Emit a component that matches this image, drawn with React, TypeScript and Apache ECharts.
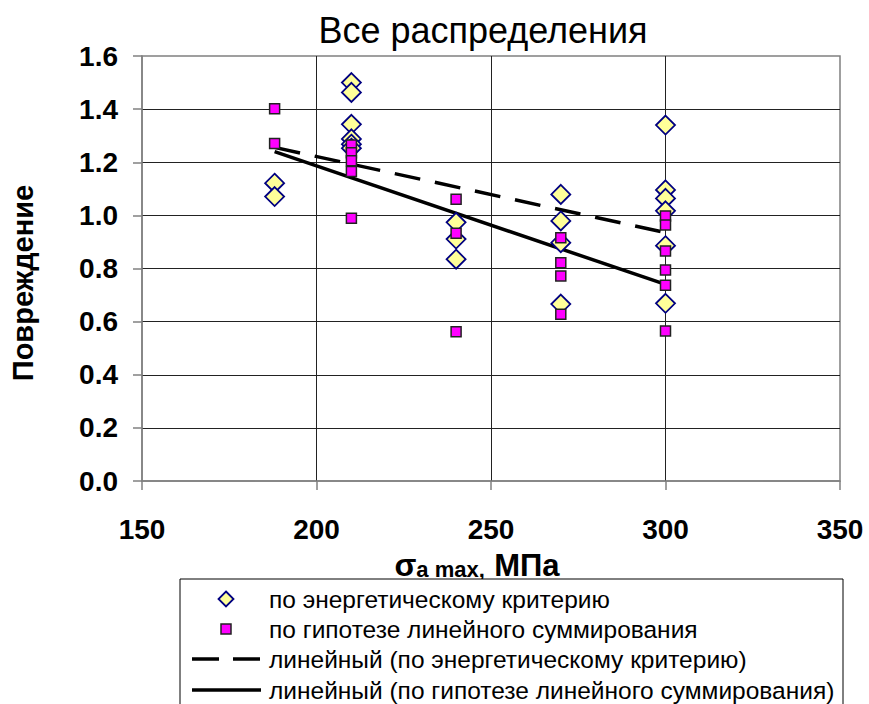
import React, { useEffect, useRef } from "react";
import * as echarts from "echarts";

const xTicks = [150, 200, 250, 300, 350];
const yTicks = [0, 0.2, 0.4, 0.6, 0.8, 1.0, 1.2, 1.4, 1.6];

const energyX = [188, 188, 210, 210, 210, 210, 210, 210, 240, 240, 240, 270, 270, 270, 270, 300, 300, 300, 300, 300, 300];
const energyY = [1.121, 1.071, 1.5, 1.463, 1.343, 1.288, 1.268, 1.253, 0.974, 0.911, 0.835, 1.079, 0.979, 0.897, 0.666, 1.34, 1.096, 1.064, 1.017, 0.886, 0.669];

const linearX = [188, 188, 210, 210, 210, 210, 210, 240, 240, 240, 270, 270, 270, 270, 300, 300, 300, 300, 300, 300];
const linearY = [1.401, 1.271, 1.265, 1.236, 1.206, 1.165, 0.989, 1.061, 0.933, 0.562, 0.916, 0.822, 0.772, 0.628, 0.998, 0.964, 0.866, 0.794, 0.737, 0.565];

const trendX = [188, 300];
const trendEnergyY = [1.256, 0.935];
const trendLinearY = [1.24, 0.74];

const names = [
  "по энергетическому критерию",
  "по гипотезе линейного суммирования",
  "линейный (по энергетическому критерию)",
  "линейный (по гипотезе линейного суммирования)",
];

const FONT = "'Liberation Sans', Arial, sans-serif";
const DASH = [26, 15];

function legendGraphics() {
  const left = 180;
  const top = 579;
  const rows = [599, 629, 659, 690];
  const cx = 226;
  const textX = 269;
  const els: any[] = [
    {
      type: "rect",
      shape: { x: left, y: top, width: 663, height: 140 },
      style: { fill: "#fff", stroke: "#000", lineWidth: 1 },
      z: 10,
    },
    {
      type: "polygon",
      shape: { points: [[cx, rows[0] - 7.5], [cx + 7.5, rows[0]], [cx, rows[0] + 7.5], [cx - 7.5, rows[0]]] },
      style: { fill: "#FFFF99", stroke: "#000080", lineWidth: 1.8 },
      z: 11,
    },
    {
      type: "rect",
      shape: { x: cx - 5, y: rows[1] - 5, width: 10, height: 10 },
      style: { fill: "#FF00FF", stroke: "#222", lineWidth: 1.5 },
      z: 11,
    },
    {
      type: "line",
      shape: { x1: 192, y1: rows[2], x2: 261, y2: rows[2] },
      style: { stroke: "#000", lineWidth: 3.5, lineDash: [27, 14] },
      z: 11,
    },
    {
      type: "line",
      shape: { x1: 192, y1: rows[3], x2: 261, y2: rows[3] },
      style: { stroke: "#000", lineWidth: 3.5 },
      z: 11,
    },
  ];
  names.forEach((n, i) => {
    els.push({
      type: "text",
      x: textX,
      y: rows[i],
      z: 11,
      style: {
        text: n,
        font: `24.5px ${FONT}`,
        fill: "#000",
        textAlign: "left",
        textVerticalAlign: "middle",
      },
    });
  });
  return els;
}

export default function App() {
  const ref = useRef<HTMLDivElement>(null);
  useEffect(() => {
    if (!ref.current) return;
    const chart = echarts.init(ref.current, null, { renderer: "svg" });
    const zip = (xs: number[], ys: number[]) => xs.map((x, i) => [x, ys[i]]);
    chart.setOption({
      animation: false,
      backgroundColor: "#fff",
      title: {
        text: "Все распределения",
        left: 478,
        textAlign: "center",
        top: 7,
        textStyle: { fontFamily: FONT, fontSize: 36, fontWeight: "normal", color: "#000" },
      },
      grid: {
        left: 142,
        right: 29,
        top: 56,
        bottom: 223,
        show: true,
        borderColor: "#808080",
        borderWidth: 1.5,
        backgroundColor: "#fff",
      },
      xAxis: {
        type: "value",
        min: xTicks[0],
        max: xTicks[xTicks.length - 1],
        interval: 50,
        axisLine: { show: true, onZero: false, lineStyle: { color: "#808080", width: 1.5 } },
        axisTick: { show: true, length: 9, lineStyle: { color: "#808080", width: 1.5 } },
        axisLabel: {
          margin: 34,
          fontFamily: FONT,
          fontSize: 28,
          fontWeight: "bold",
          color: "#000",
        },
        splitLine: { show: true, showMinLine: false, showMaxLine: false, lineStyle: { color: "#222", width: 1 } },
      },
      yAxis: {
        type: "value",
        min: yTicks[0],
        max: yTicks[yTicks.length - 1],
        interval: 0.2,
        axisLine: { show: true, lineStyle: { color: "#808080", width: 1.5 } },
        axisTick: { show: true, length: 9, lineStyle: { color: "#808080", width: 1.5 } },
        axisLabel: {
          margin: 24,
          fontFamily: FONT,
          fontSize: 28,
          fontWeight: "bold",
          color: "#000",
          formatter: (v: number) => v.toFixed(1),
        },
        splitLine: { show: true, showMinLine: false, showMaxLine: false, lineStyle: { color: "#222", width: 1 } },
      },
      graphic: [
        {
          type: "text",
          x: 23,
          y: 283,
          rotation: Math.PI / 2,
          style: {
            text: "Повреждение",
            font: `bold 29px ${FONT}`,
            fill: "#000",
            textAlign: "center",
            textVerticalAlign: "middle",
          },
        },
        {
          type: "text",
          x: 477,
          y: 581,
          style: {
            text: "{s|σ}{sub|a max,}{sp| }{b|МПа}",
            textAlign: "center",
            textVerticalAlign: "bottom",
            rich: {
              s: { font: `bold 32px ${FONT}`, fill: "#000", verticalAlign: "bottom" },
              sub: { font: `bold 22px ${FONT}`, fill: "#000", verticalAlign: "bottom", padding: [0, 0, 1, 0] },
              sp: { font: `bold 34px ${FONT}`, fill: "#000", verticalAlign: "bottom" },
              b: { font: `bold 31px ${FONT}`, fill: "#000", verticalAlign: "bottom" },
            },
          },
        },
        ...legendGraphics(),
      ],
      series: [
        {
          name: names[2],
          type: "line",
          data: zip(trendX, trendEnergyY),
          symbol: "none",
          z: 1,
          lineStyle: { color: "#000", width: 3.5, type: DASH },
        },
        {
          name: names[3],
          type: "line",
          data: zip(trendX, trendLinearY),
          symbol: "none",
          z: 1,
          lineStyle: { color: "#000", width: 3.5, type: "solid" },
        },
        {
          name: names[0],
          type: "scatter",
          data: zip(energyX, energyY),
          symbol: "diamond",
          symbolSize: 19,
          z: 2,
          itemStyle: { color: "#FFFF99", borderColor: "#000080", borderWidth: 1.8, opacity: 1 },
        },
        {
          name: names[1],
          type: "scatter",
          data: zip(linearX, linearY),
          symbol: "rect",
          symbolSize: 10,
          z: 3,
          itemStyle: { color: "#FF00FF", borderColor: "#222", borderWidth: 1.5, opacity: 1 },
        },
      ],
    });
    return () => chart.dispose();
  }, []);
  return <div ref={ref} style={{ position: "fixed", left: 0, top: 0, width: 869, height: 704 }} />;
}
